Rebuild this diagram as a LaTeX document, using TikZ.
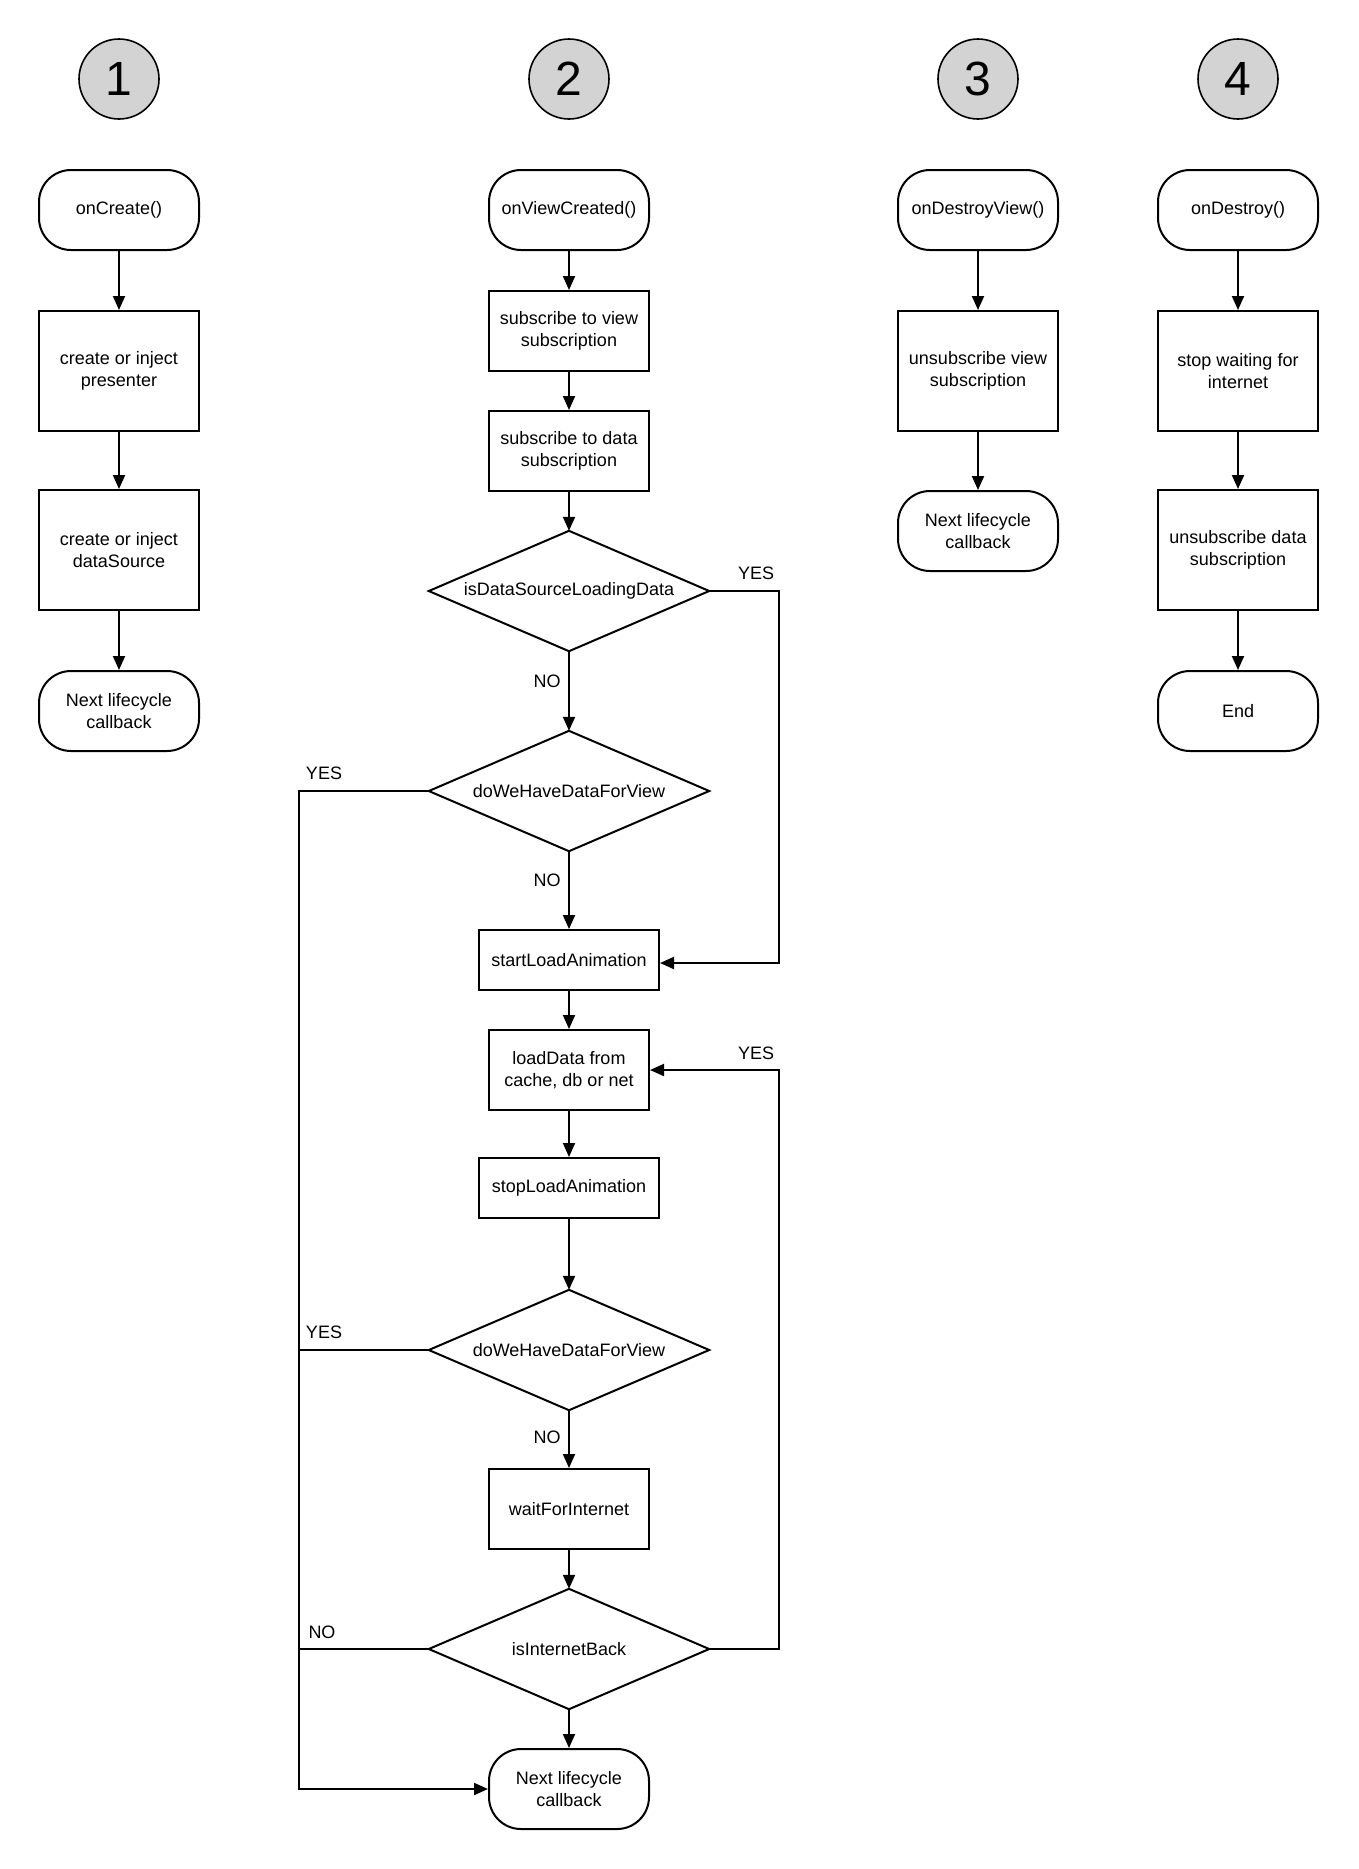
\documentclass[tikz,border=0pt]{standalone}
\usepackage{fontspec}
\setmainfont{Liberation Sans}
\usetikzlibrary{arrows.meta}
\definecolor{numfill}{RGB}{211,211,211}
\tikzset{
  base/.style={font=\fontsize{18}{21.5}\selectfont, align=center, inner sep=0pt},
  box/.style={base, draw, line width=2pt, minimum width=160pt, minimum height=120pt},
  sbox/.style={box, minimum height=80pt},
  wbox/.style={box, minimum width=180pt, minimum height=60pt},
  term/.style={base, draw, line width=2pt, rounded corners=32pt, minimum width=160pt, minimum height=80pt},
  dec/.style={base, minimum width=280pt, minimum height=120pt},
  num/.style={circle, draw, line width=1.6pt, fill=numfill, minimum size=80pt, inner sep=0pt, font=\fontsize{48}{48}\selectfont},
  lbl/.style={font=\fontsize{18}{21.5}\selectfont, inner sep=0pt},
  arr/.style={line width=2pt, -{Triangle[length=14pt,width=12pt]}},
  lin/.style={line width=2pt},
}
\newcommand\diamondline[1]{\draw[line width=2pt] (#1.north) -- (#1.east) -- (#1.south) -- (#1.west) -- cycle;}
\begin{document}
\begin{tikzpicture}[x=1pt,y=-1pt]
\useasboundingbox (0,0) rectangle (1358,1869);
% numbers
\node[num] (n1) at (119,79) {1};
\node[num] (n2) at (569,79) {2};
\node[num] (n3) at (978,79) {3};
\node[num] (n4) at (1238,79) {4};
% column 1
\node[term] (oc) at (119,210) {onCreate()};
\node[box] (pres) at (119,371) {create or inject\\presenter};
\node[box] (ds) at (119,550) {create or inject\\dataSource};
\node[term] (nx1) at (119,711) {Next lifecycle\\callback};
\draw[arr] (oc) -- (pres);
\draw[arr] (pres) -- (ds);
\draw[arr] (ds) -- (nx1);
% column 2
\node[term] (ovc) at (569,210) {onViewCreated()};
\node[sbox] (sv) at (569,331) {subscribe to view\\subscription};
\node[sbox] (sd) at (569,451) {subscribe to data\\subscription};
\node[dec] (d1) at (569,591) {isDataSourceLoadingData}; \diamondline{d1}
\node[dec] (d2) at (569,791) {doWeHaveDataForView}; \diamondline{d2}
\node[wbox] (sla) at (569,960) {startLoadAnimation};
\node[sbox] (ld) at (569,1070) {loadData from\\cache, db or net};
\node[wbox] (sto) at (569,1188) {stopLoadAnimation};
\node[dec] (d3) at (569,1350) {doWeHaveDataForView}; \diamondline{d3}
\node[sbox] (wfi) at (569,1509) {waitForInternet};
\node[dec] (d4) at (569,1649) {isInternetBack}; \diamondline{d4}
\node[term] (nx2) at (569,1789) {Next lifecycle\\callback};
\coordinate (R) at (779,0);
\coordinate (L) at (299,0);
\draw[arr] (ovc) -- (sv);
\draw[arr] (sv) -- (sd);
\draw[arr] (sd) -- (d1.north);
\draw[arr] (d1.south) -- (d2.north);
\draw[arr] (d2.south) -- (sla);
\draw[arr] (sla) -- (ld);
\draw[arr] (ld) -- (sto);
\draw[arr] (sto) -- (d3.north);
\draw[arr] (d3.south) -- (wfi);
\draw[arr] (wfi) -- (d4.north);
\draw[arr] (d4.south) -- (nx2);
\draw[arr] (d1.east) -- (d1.east -| R) |- ([yshift=-3pt]sla.east);
\draw[arr] (d4.east) -- (d4.east -| R) |- (ld.east);
\draw[arr] (d2.west) -- (d2.west -| L) |- (nx2.west);
\draw[lin] (d3.west) -- (d3.west -| L);
\draw[lin] (d4.west) -- (d4.west -| L);
\node[lbl] (no1) at (547,681) {NO};
\node[lbl] (no2) at (547,880) {NO};
\node[lbl] (no3) at (547,1437) {NO};
\node[lbl] (no4) at (322,1632) {NO};
\node[lbl] (yes1) at (756,573) {YES};
\node[lbl] (yes2) at (756,1053) {YES};
\node[lbl] (yes3) at (324,773) {YES};
\node[lbl] (yes4) at (324,1332) {YES};
% column 3
\node[term] (odv) at (978,210) {onDestroyView()};
\node[box] (uvs) at (978,371) {unsubscribe view\\subscription};
\node[term] (nx3) at (978,531) {Next lifecycle\\callback};
\draw[arr] (odv) -- (uvs);
\draw[arr] (uvs) -- (nx3);
% column 4
\node[term] (od) at (1238,210) {onDestroy()};
\node[box] (swi) at (1238,371) {stop waiting for\\internet};
\node[box] (uds) at (1238,550) {unsubscribe data\\subscription};
\node[term] (endn) at (1238,711) {End};
\draw[arr] (od) -- (swi);
\draw[arr] (swi) -- (uds);
\draw[arr] (uds) -- (endn);
\end{tikzpicture}
\end{document}
